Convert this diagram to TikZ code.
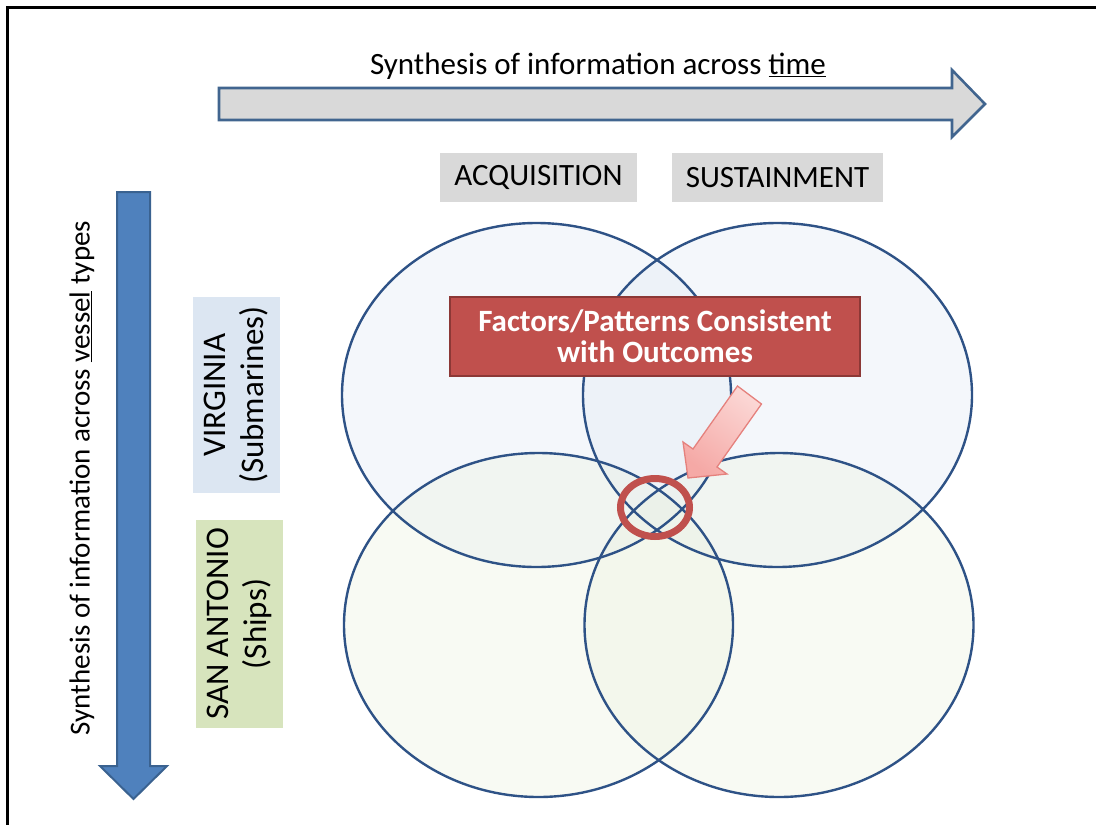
\documentclass[tikz,border=0pt]{standalone}
\usepackage{fontspec}
\setmainfont{Carlito}
\usetikzlibrary{shapes.geometric}
\definecolor{arrgray}{HTML}{D9D9D9}
\definecolor{arrline}{HTML}{41658F}
\definecolor{vblue}{HTML}{4F81BD}
\definecolor{vblueline}{HTML}{3A6290}
\definecolor{ellline}{HTML}{2E5286}
\definecolor{topfill}{HTML}{DCE6F2}
\definecolor{botfill}{HTML}{EBF1DE}
\definecolor{redbox}{HTML}{C0504D}
\definecolor{redboxline}{HTML}{8C3836}
\definecolor{virgfill}{HTML}{DCE6F2}
\definecolor{sanfill}{HTML}{D7E4BD}
\definecolor{pinkA}{HTML}{FBD6D4}
\definecolor{pinkB}{HTML}{F5A9A6}
\definecolor{pinkline}{HTML}{E5817D}
\tikzset{
  vennfill/.style={ellipse, line width=2.4pt, minimum width=389pt, minimum height=344pt, inner sep=0pt},
  vennline/.style={ellipse, draw=ellline, line width=2.4pt, minimum width=389pt, minimum height=344pt, inner sep=0pt},
  graybox/.style={fill=arrgray, minimum height=49pt, inner sep=0pt, font=\fontsize{31}{35}\selectfont},
  sidebox/.style={rotate=90, minimum width=#1, minimum height=87pt, inner sep=0pt, align=center, font=\fontsize{33}{38}\selectfont},
}
\begin{document}
\begin{tikzpicture}[x=1pt,y=-1pt]
\useasboundingbox (0,0) rectangle (1096,825);
% frame (only left and top edges visible)
\draw[line width=3pt, black] (7,825) -- (7,7) -- (1096,7);
% top arrow
\draw[fill=arrgray, draw=arrline, line width=2.6pt, line join=miter]
  (219,88) -- (952,88) -- (952,70) -- (985,104) -- (952,137) -- (952,120) -- (219,120) -- cycle;
\node (toptext) at (598,66) {\fontsize{31}{35}\selectfont Synthesis of information across \underline{time}};
% vertical arrow
\draw[fill=vblue, draw=vblueline, line width=2pt, line join=miter]
  (117,192) -- (150,192) -- (150,766) -- (167,766) -- (133.5,799) -- (100,766) -- (117,766) -- cycle;
\node[rotate=90] (vtext) at (82,478) {\fontsize{29}{33}\selectfont Synthesis of information across \underline{vessel} types};
% column headers
\node[graybox, minimum width=197pt] (acq) at (538.5,177.5) {ACQUISITION};
\node[graybox, minimum width=211pt] (sus) at (777.5,177.5) {SUSTAINMENT};
% row labels
\node[sidebox=196pt, fill=virgfill] (virg) at (236.5,395) {VIRGINIA\\(Submarines)};
\node[sidebox=208pt, fill=sanfill] (san) at (239.5,624) {SAN ANTONIO\\(Ships)};
% venn ellipses: fills
\node[vennfill, fill=topfill, fill opacity=0.3] (tl) at (536.5,395) {};
\node[vennfill, fill=topfill, fill opacity=0.3] (tr) at (777.5,395) {};
\node[vennfill, fill=botfill, fill opacity=0.35] (bl) at (538.5,625) {};
\node[vennfill, fill=botfill, fill opacity=0.35] (br) at (779,625) {};
% venn ellipses: outlines
\node[vennline] at (tl.center) {};
\node[vennline] at (tr.center) {};
\node[vennline] at (bl.center) {};
\node[vennline] at (br.center) {};
% red box
\node[fill=redbox, draw=redboxline, line width=1.5pt, minimum width=410pt, minimum height=79pt, inner sep=0pt,
      text=white, align=center, font=\bfseries\fontsize{31}{31}\selectfont] (factors) at (655,336.5)
  {Factors/Patterns Consistent\\with Outcomes};
% red highlight ellipse
\node[ellipse, draw=redbox, line width=7pt, minimum width=69pt, minimum height=58pt, inner sep=0pt] (focus) at (655,507.5) {};
% pink block arrow
\coordinate (tailA) at (761.5,404);
\coordinate (tailB) at (737.5,386);
\coordinate (neckA) at (717,467);
\coordinate (neckB) at (693,449);
\coordinate (wingA) at (727,474);
\coordinate (wingB) at (683,442);
\coordinate (tip) at (688,478);
\draw[draw=pinkline, line width=1.3pt, line join=miter, shading=axis, top color=pinkA, bottom color=pinkB, shading angle=-37]
  (tailB) -- (tailA) -- (neckA) -- (wingA) -- (tip) -- (wingB) -- (neckB) -- cycle;
\end{tikzpicture}
\end{document}
